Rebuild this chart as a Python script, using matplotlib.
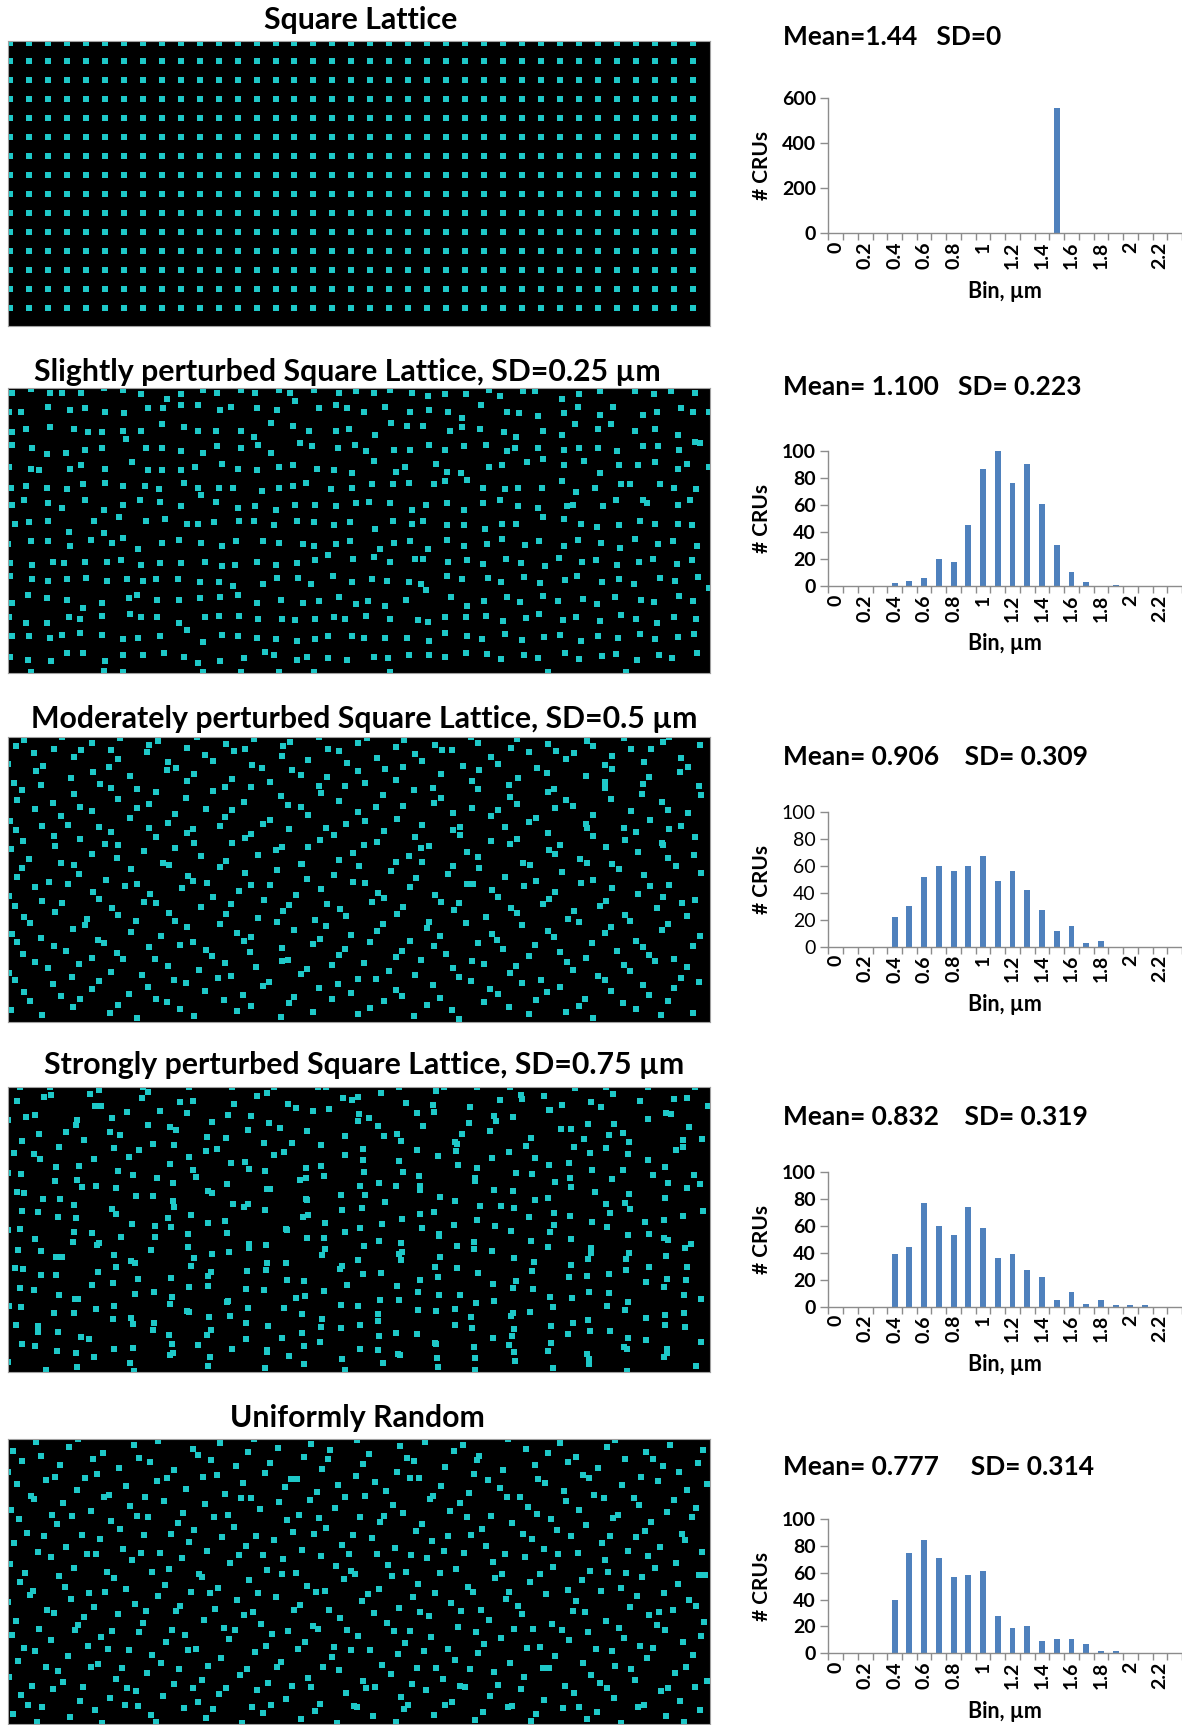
import numpy as np
import matplotlib.pyplot as plt

plt.rcParams['font.family'] = ['Lato', 'DejaVu Sans']

W, H = 1182, 1725

titles = ["Square Lattice",
          "Slightly perturbed Square Lattice, SD=0.25 µm",
          "Moderately perturbed Square Lattice, SD=0.5 µm",
          "Strongly perturbed Square Lattice, SD=0.75 µm",
          "Uniformly Random"]
stats = ["Mean=1.44   SD=0",
         "Mean= 1.100   SD= 0.223",
         "Mean= 0.906    SD= 0.309",
         "Mean= 0.832    SD= 0.319",
         "Mean= 0.777     SD= 0.314"]

# nearest-neighbour distance bins, µm
bins = [0, 0.1, 0.2, 0.3, 0.4, 0.5, 0.6, 0.7, 0.8, 0.9, 1, 1.1,
        1.2, 1.3, 1.4, 1.5, 1.6, 1.7, 1.8, 1.9, 2, 2.1, 2.2, 2.3]
counts_lattice = [0, 0, 0, 0, 0, 0, 0, 0, 0, 0, 0, 0, 0, 0, 0, 555, 0, 0, 0, 0, 0, 0, 0, 0]
counts_slight = [0, 0, 0, 0, 2, 4, 6, 20, 18, 45, 87, 100, 76, 90, 61, 30, 10, 3, 0, 1, 0, 0, 0, 0]
counts_moderate = [0, 0, 0, 0, 22, 30, 52, 60, 56, 60, 67, 49, 56, 42, 27, 12, 15, 3, 4, 0, 0, 0, 0, 0]
counts_strong = [0, 0, 0, 0, 39, 44, 77, 60, 53, 74, 58, 36, 39, 27, 22, 5, 11, 2, 5, 1, 1, 1, 0, 0]
counts_uniform = [0, 0, 0, 0, 40, 75, 84, 71, 57, 58, 61, 28, 19, 20, 9, 11, 11, 7, 2, 2, 0, 0, 0, 0]
y_max = [600, 100, 100, 100, 100]
y_step = [200, 20, 20, 20, 20]

# square lattice: 37 x 15 CRUs, 1.44 µm apart
lattice_cols, lattice_rows = 37, 15
lattice_step = 1.44
px_per_um = 13.17          # raster pixels of the field per µm
field_w, field_h = 702, 285  # field size in raster pixels

# CRU centres (raster pixels, origin top-left) of the perturbed fields
slight_pts = [
    (4, 5), (23, 1), (42, 5), (54, 5), (73, 5), (96, 0), (115, 2), (133, 6), (159, 11), (173, 6), (195, 2), (209, 5), (233, 2),
    (1, 24), (13, 24), (40, 19), (62, 22), (77, 20), (97, 24), (116, 25), (140, 20), (155, 20), (173, 17), (190, 17), (212, 22), (223, 19),
    (4, 44), (18, 41), (42, 39), (66, 41), (80, 44), (94, 44), (115, 43), (133, 43), (154, 36), (176, 39), (190, 43), (208, 43), (233, 43), (118, 51),
    (4, 57), (24, 60), (39, 66), (58, 65), (77, 62), (94, 60), (138, 60), (154, 60), (173, 63), (195, 65), (209, 58), (233, 60),
    (1, 79), (23, 81), (31, 82), (62, 81), (73, 77), (97, 81), (124, 74), (140, 82), (154, 82), (173, 82), (187, 79), (214, 76), (230, 81),
    (3, 100), (18, 98), (39, 100), (59, 101), (75, 96), (97, 95), (115, 98), (137, 98), (151, 101), (176, 95), (190, 100), (193, 107), (211, 100), (225, 100),
    (4, 117), (16, 112), (40, 115), (54, 120), (77, 112), (96, 122), (115, 117), (132, 112), (152, 114), (173, 118), (208, 114), (230, 120),
    (7, 136), (21, 134), (40, 133), (86, 133), (111, 129), (138, 133), (157, 131), (179, 136), (190, 136), (206, 134), (231, 133),
    (61, 144), (96, 145),
    (0, 156), (23, 153), (40, 153), (62, 158), (83, 152), (104, 155), (115, 150), (130, 161), (154, 155), (171, 152), (193, 155), (214, 158), (228, 153),
    (2, 175), (24, 177), (45, 174), (56, 175), (77, 174), (99, 174), (113, 172), (133, 177), (152, 175), (173, 175), (197, 174), (214, 178), (227, 177),
    (2, 188), (24, 191), (40, 193), (59, 191), (78, 190), (99, 193), (119, 191), (135, 193), (148, 191), (170, 191), (192, 194), (211, 194), (225, 198),
    (4, 215), (20, 207), (39, 210), (59, 212), (75, 220), (94, 215), (121, 210), (129, 207), (149, 212), (171, 212), (192, 210), (212, 209), (230, 207),
    (1, 229), (18, 235), (39, 235), (61, 229), (72, 231), (94, 228), (122, 226), (133, 229), (149, 229), (171, 235), (179, 242), (197, 229), (211, 228), (231, 228),
    (4, 248), (21, 248), (42, 250), (54, 247), (72, 245), (94, 247), (115, 251), (130, 250), (152, 248), (195, 254), (214, 247), (230, 248),
    (2, 269), (20, 272), (43, 273), (59, 265), (75, 265), (97, 273), (115, 267), (135, 267), (156, 265), (176, 269), (190, 275), (212, 273),
    (23, 284), (96, 283), (115, 284), (195, 284), (233, 284),
    (247, 5), (271, 2), (282, 5), (306, 2), (331, 5), (348, 3), (366, 5), (382, 2), (404, 5), (420, 8), (437, 6), (458, 6),
    (287, 13), (249, 20), (269, 22), (311, 20), (328, 17), (339, 20), (356, 24), (377, 19), (402, 24), (421, 22), (440, 24), (454, 30),
    (263, 35), (285, 38), (301, 43), (328, 43), (341, 41), (367, 47), (383, 35), (399, 38), (415, 38), (442, 43), (454, 39), (246, 49),
    (250, 57), (263, 65), (292, 55), (304, 58), (330, 60), (347, 57), (358, 63), (386, 62), (402, 62), (421, 57), (437, 62), (456, 58),
    (249, 82), (271, 79), (285, 77), (309, 81), (326, 82), (344, 85), (366, 73), (388, 84), (397, 79), (428, 76), (439, 84), (453, 85), (459, 92),
    (254, 103), (271, 100), (285, 98), (298, 95), (323, 101), (344, 100), (364, 96), (385, 96), (401, 95), (426, 96), (437, 93),
    (247, 118), (268, 122), (287, 117), (307, 117), (328, 118), (348, 115), (361, 114), (382, 115), (404, 122), (418, 117), (439, 115), (456, 122),
    (246, 133), (266, 137), (289, 133), (306, 134), (326, 137), (342, 134), (367, 141), (385, 133), (404, 136), (415, 133), (439, 137), (456, 137),
    (255, 153), (271, 155), (295, 156), (306, 158), (328, 156), (342, 153), (372, 161), (386, 155), (402, 153), (420, 161), (439, 152), (456, 158),
    (249, 174), (268, 177), (289, 175), (307, 172), (320, 167), (345, 171), (366, 169), (382, 174), (407, 171), (415, 171), (440, 174), (459, 172),
    (269, 190), (290, 190), (255, 196), (303, 196), (325, 188), (344, 194), (364, 191), (379, 193), (401, 194), (413, 196), (439, 188), (454, 191),
    (249, 215), (273, 212), (295, 215), (311, 213), (331, 209), (348, 216), (360, 213), (377, 218), (398, 212), (418, 202), (443, 209), (459, 218),
    (250, 231), (274, 231), (287, 232), (307, 231), (326, 229), (337, 231), (358, 228), (382, 231), (410, 232), (420, 234), (437, 229), (458, 229),
    (249, 250), (268, 251), (289, 253), (307, 251), (320, 248), (344, 248), (356, 250), (377, 250), (399, 250), (421, 253), (437, 245), (459, 248),
    (236, 270), (257, 264), (266, 267), (289, 272), (299, 269), (320, 270), (339, 272), (366, 269), (380, 270), (401, 267), (421, 267), (437, 269), (458, 265),
    (271, 284), (306, 284), (382, 284),
    (481, 2), (492, 8), (515, 3), (527, 3), (554, 11), (571, 6), (592, 3), (627, 3), (646, 6), (663, 3), (687, 5),
    (473, 17), (499, 24), (511, 25), (530, 28), (556, 25), (570, 19), (592, 27), (605, 19), (635, 27), (649, 24), (673, 20), (685, 24), (701, 24),
    (472, 41), (496, 44), (508, 49), (535, 43), (554, 47), (567, 36), (590, 41), (603, 36), (627, 43), (647, 41), (670, 47), (687, 54), (692, 55),
    (478, 57), (499, 63), (507, 60), (530, 60), (556, 62), (571, 60), (590, 60), (609, 63), (635, 58), (650, 58), (671, 62),
    (481, 79), (494, 77), (519, 74), (535, 71), (556, 77), (576, 73), (592, 85), (611, 77), (630, 77), (647, 74), (670, 81), (679, 76), (701, 79),
    (475, 100), (497, 101), (510, 100), (534, 100), (554, 93), (568, 104), (587, 100), (613, 96), (622, 96), (652, 96), (666, 100), (688, 101),
    (475, 115), (492, 112), (510, 118), (530, 120), (559, 118), (565, 117), (595, 118), (608, 112), (635, 112), (639, 115), (670, 117), (682, 112),
    (477, 141), (494, 136), (508, 136), (535, 129), (556, 131), (573, 136), (589, 139), (611, 137), (632, 133), (647, 136), (670, 136), (684, 137),
    (479, 156), (494, 151), (517, 157), (531, 153), (556, 158), (570, 152), (593, 155), (612, 160), (627, 151), (650, 156), (665, 153), (689, 158),
    (475, 176), (498, 171), (513, 175), (537, 178), (551, 170), (574, 174), (588, 172), (609, 177), (631, 174), (645, 171), (669, 176), (684, 172),
    (480, 190), (493, 194), (516, 189), (532, 195), (557, 192), (569, 188), (594, 194), (611, 191), (626, 196), (652, 190), (667, 193), (690, 189),
    (476, 213), (499, 209), (512, 214), (535, 208), (550, 213), (575, 211), (589, 216), (607, 209), (633, 212), (646, 214), (671, 208), (685, 213),
    (478, 228), (495, 233), (518, 230), (531, 226), (555, 232), (568, 229), (592, 233), (613, 227), (628, 231), (649, 235), (666, 229), (688, 231),
    (474, 251), (497, 246), (514, 252), (536, 249), (552, 247), (573, 253), (590, 248), (610, 250), (632, 246), (647, 251), (670, 249), (686, 246),
    (479, 266), (493, 271), (516, 267), (530, 270), (557, 265), (571, 271), (594, 268), (608, 266), (629, 272), (651, 267), (664, 270), (689, 265),
    (540, 284), (618, 284), (701, 200),
]

moderate_x = [
    [8, 16, 46, 54, 84, 103, 112, 141, 150, 179, 189, 218, 226, 246, 275, 282, 311, 320, 350, 359, 388, 396, 427, 434, 463, 470, 503, 509, 540, 548, 579, 585, 616, 623, 655, 661, 692],
    [0, 26, 35, 66, 73, 101, 110, 139, 160, 168, 197, 205, 237, 244, 274, 284, 300, 331, 339, 369, 377, 407, 414, 444, 455, 483, 490, 521, 529, 558, 566, 597, 604, 636, 643, 673, 680],
    [6, 28, 33, 63, 85, 92, 122, 129, 159, 179, 186, 217, 224, 254, 262, 293, 311, 319, 350, 357, 388, 395, 425, 433, 464, 471, 501, 510, 539, 546, 578, 597, 604, 635, 641, 672, 691],
    [9, 14, 45, 66, 72, 103, 110, 141, 148, 178, 198, 205, 236, 243, 273, 280, 313, 331, 337, 368, 375, 406, 426, 433, 464, 470, 502, 509, 540, 558, 565, 597, 603, 634, 654, 660, 693],
    [2, 27, 34, 53, 84, 91, 122, 129, 160, 167, 185, 217, 224, 255, 262, 293, 300, 318, 350, 357, 389, 395, 414, 445, 452, 483, 490, 521, 528, 547, 578, 585, 616, 623, 642, 673, 680],
    [8, 15, 46, 60, 72, 103, 110, 141, 148, 179, 186, 212, 237, 243, 274, 281, 312, 326, 338, 369, 376, 407, 421, 445, 452, 483, 497, 509, 540, 552, 579, 585, 617, 628, 654, 661, 687],
    [3, 21, 47, 53, 84, 97, 109, 136, 161, 167, 193, 218, 224, 250, 268, 293, 300, 331, 345, 356, 388, 401, 413, 445, 459, 470, 502, 515, 541, 547, 572, 598, 604, 630, 655, 660, 686],
    [9, 14, 41, 66, 71, 98, 123, 129, 155, 180, 185, 212, 237, 243, 269, 294, 299, 326, 351, 357, 383, 408, 414, 440, 465, 471, 497, 522, 528, 554, 579, 585, 611, 636, 642, 668, 693],
    [1, 27, 34, 60, 85, 91, 117, 142, 148, 174, 199, 205, 231, 256, 262, 288, 313, 319, 345, 370, 376, 402, 427, 433, 459, 484, 490, 516, 541, 547, 573, 598, 604, 630, 655, 661, 687],
    [7, 16, 47, 54, 79, 104, 110, 136, 161, 167, 193, 218, 223, 250, 275, 281, 307, 332, 338, 364, 389, 395, 421, 446, 451, 478, 503, 509, 535, 560, 566, 592, 617, 622, 649, 674, 679],
    [4, 22, 33, 65, 77, 90, 123, 128, 153, 179, 185, 212, 229, 243, 269, 286, 312, 318, 343, 369, 375, 402, 419, 432, 458, 484, 489, 514, 540, 546, 571, 597, 603, 628, 654, 660, 692],
    [9, 15, 46, 58, 84, 96, 109, 141, 147, 172, 198, 204, 236, 242, 274, 280, 305, 331, 337, 362, 388, 394, 426, 438, 464, 470, 495, 521, 527, 552, 578, 584, 609, 635, 641, 666, 685],
    [1, 27, 40, 64, 71, 103, 115, 134, 160, 166, 191, 217, 223, 248, 274, 293, 299, 324, 350, 356, 381, 407, 413, 445, 451, 476, 502, 508, 533, 559, 565, 590, 616, 622, 647, 673, 679],
    [7, 16, 45, 53, 84, 91, 121, 140, 148, 178, 197, 210, 235, 255, 261, 286, 311, 330, 343, 368, 388, 394, 425, 432, 463, 482, 490, 514, 539, 552, 577, 597, 603, 635, 641, 666, 691],
    [3, 22, 34, 65, 72, 102, 110, 129, 159, 172, 186, 216, 229, 243, 273, 281, 305, 324, 350, 362, 376, 406, 419, 444, 451, 476, 501, 521, 528, 558, 571, 585, 615, 628, 653, 660, 685],
]
moderate_y = [
    [9, 3, 12, 0, 6, 13, 1, 8, 4, 11, 0, 7, 14, 2, 9, 5, 0, 12, 6, 1, 10, 3, 8, 13, 0, 6, 11, 2, 7, 14, 4, 9, 1, 12, 5, 0, 8],
    [27, 16, 29, 20, 13, 30, 22, 15, 25, 31, 18, 24, 12, 28, 19, 33, 23, 14, 26, 21, 32, 17, 24, 13, 29, 20, 27, 15, 31, 22, 16, 28, 19, 25, 12, 21, 30],
    [46, 34, 48, 41, 35, 47, 39, 52, 33, 44, 37, 50, 42, 31, 45, 38, 49, 40, 34, 46, 43, 30, 51, 37, 44, 33, 48, 41, 36, 52, 39, 45, 32, 47, 40, 35, 49],
    [63, 53, 66, 57, 70, 51, 62, 67, 55, 61, 72, 54, 65, 50, 59, 68, 56, 64, 49, 70, 58, 53, 66, 61, 71, 52, 60, 67, 55, 63, 69, 51, 62, 57, 65, 73, 58],
    [84, 72, 89, 79, 74, 90, 81, 71, 86, 77, 92, 80, 73, 87, 83, 70, 78, 91, 75, 84, 82, 69, 88, 76, 90, 79, 73, 85, 81, 71, 87, 78, 91, 74, 83, 89, 76],
    [93, 104, 99, 88, 102, 95, 108, 91, 100, 96, 106, 89, 101, 97, 110, 92, 103, 98, 87, 105, 94, 100, 109, 93, 98, 104, 90, 102, 96, 108, 91, 99, 103, 95, 106, 92, 100],
    [112, 122, 109, 126, 117, 107, 121, 114, 128, 111, 119, 124, 106, 118, 113, 127, 110, 123, 116, 108, 125, 119, 111, 129, 115, 120, 107, 126, 113, 117, 122, 110, 127, 115, 108, 121, 118],
    [140, 131, 145, 128, 137, 143, 132, 147, 126, 139, 144, 130, 136, 148, 133, 127, 142, 138, 129, 146, 134, 141, 125, 137, 147, 131, 140, 128, 144, 135, 126, 143, 132, 138, 149, 129, 136],
    [159, 150, 164, 147, 155, 162, 149, 157, 166, 151, 146, 160, 154, 163, 148, 158, 152, 167, 145, 156, 161, 150, 158, 165, 147, 153, 160, 149, 162, 155, 146, 164, 151, 157, 160, 148, 163],
    [169, 180, 175, 166, 182, 171, 178, 165, 176, 184, 170, 177, 167, 181, 174, 168, 183, 172, 179, 165, 177, 170, 185, 173, 166, 180, 171, 176, 167, 182, 174, 169, 178, 184, 171, 166, 179],
    [197, 186, 201, 192, 188, 203, 195, 184, 199, 190, 205, 187, 196, 200, 185, 193, 202, 189, 198, 194, 187, 204, 191, 199, 186, 197, 203, 188, 194, 200, 185, 196, 190, 204, 193, 187, 199],
    [205, 217, 209, 214, 221, 206, 216, 210, 222, 208, 213, 219, 204, 215, 211, 223, 207, 218, 212, 205, 220, 214, 209, 217, 224, 206, 212, 219, 208, 215, 221, 206, 214, 210, 218, 222, 209],
    [236, 225, 231, 240, 227, 235, 222, 238, 229, 243, 233, 226, 239, 230, 224, 237, 232, 228, 242, 226, 234, 238, 223, 231, 240, 227, 236, 229, 243, 225, 233, 239, 228, 234, 224, 241, 230],
    [243, 255, 247, 259, 252, 244, 257, 250, 262, 246, 254, 241, 258, 249, 245, 260, 251, 247, 256, 242, 253, 259, 248, 261, 244, 252, 257, 246, 255, 250, 262, 243, 254, 248, 258, 251, 245],
    [273, 264, 278, 270, 262, 276, 268, 281, 265, 272, 279, 263, 274, 269, 280, 266, 275, 262, 277, 271, 264, 279, 268, 273, 282, 265, 270, 277, 263, 275, 269, 281, 266, 272, 278, 264, 276],
]

strong_x = [
    [12, 9, 43, 42, 93, 91, 135, 134, 140, 181, 172, 224, 226, 266, 259, 288, 318, 310, 350, 344, 391, 398, 436, 428, 462, 469, 514, 502, 536, 567, 554, 598, 605, 640, 632, 687, 679],
    [0, 36, 27, 68, 87, 82, 104, 152, 162, 185, 179, 204, 249, 243, 280, 272, 321, 335, 350, 351, 373, 415, 425, 426, 461, 492, 505, 513, 542, 563, 583, 580, 593, 640, 666, 658, 700],
    [14, 18, 58, 51, 69, 112, 119, 145, 140, 168, 209, 220, 218, 261, 256, 305, 299, 313, 361, 376, 370, 409, 409, 454, 447, 488, 486, 518, 553, 541, 576, 606, 598, 615, 663, 675, 681],
    [6, 31, 32, 76, 71, 106, 102, 121, 166, 162, 199, 198, 240, 237, 284, 266, 298, 337, 355, 355, 393, 389, 430, 450, 449, 482, 501, 527, 523, 566, 561, 601, 620, 621, 657, 668, 694],
    [0, 26, 47, 48, 88, 86, 125, 131, 149, 185, 181, 219, 223, 257, 276, 292, 313, 316, 337, 371, 391, 395, 412, 448, 469, 467, 484, 524, 541, 547, 582, 584, 604, 640, 645, 675, 692],
    [9, 13, 35, 69, 66, 108, 110, 145, 165, 165, 188, 204, 240, 241, 259, 298, 298, 333, 352, 356, 377, 412, 411, 432, 467, 472, 508, 505, 527, 562, 563, 598, 615, 621, 660, 657, 686],
    [14, 16, 50, 52, 74, 108, 124, 128, 166, 160, 200, 225, 217, 257, 262, 300, 299, 317, 357, 354, 394, 388, 426, 447, 446, 486, 493, 521, 540, 546, 584, 587, 622, 617, 656, 679, 675],
    [0, 30, 27, 68, 84, 91, 104, 147, 147, 183, 180, 200, 241, 236, 278, 295, 299, 337, 334, 374, 371, 412, 414, 431, 469, 466, 506, 503, 546, 562, 563, 599, 602, 641, 637, 660, 695],
    [10, 12, 48, 65, 66, 106, 113, 123, 163, 180, 186, 219, 221, 258, 259, 279, 317, 316, 350, 352, 391, 393, 431, 432, 449, 487, 484, 523, 526, 542, 583, 580, 620, 621, 656, 658, 683],
    [7, 33, 33, 54, 89, 90, 127, 130, 143, 183, 200, 204, 239, 241, 278, 279, 314, 332, 356, 355, 393, 394, 430, 427, 466, 470, 506, 508, 540, 563, 579, 583, 618, 618, 659, 677, 679],
    [12, 15, 51, 48, 70, 105, 108, 146, 163, 164, 203, 200, 219, 258, 256, 296, 297, 334, 339, 372, 373, 410, 412, 449, 452, 485, 486, 524, 525, 561, 564, 601, 601, 638, 641, 676, 678],
    [1, 26, 46, 67, 84, 88, 123, 127, 162, 181, 181, 220, 222, 238, 276, 288, 314, 316, 350, 370, 389, 391, 428, 431, 463, 468, 505, 505, 542, 545, 580, 581, 617, 620, 656, 657, 693],
    [8, 13, 30, 66, 73, 105, 106, 145, 146, 179, 199, 201, 238, 240, 260, 294, 294, 333, 333, 371, 370, 410, 409, 447, 447, 485, 503, 506, 522, 560, 565, 599, 602, 638, 638, 676, 677],
    [14, 30, 49, 50, 86, 81, 125, 125, 161, 165, 203, 190, 238, 259, 274, 281, 313, 312, 352, 352, 390, 388, 428, 429, 464, 466, 504, 506, 543, 543, 581, 582, 619, 620, 657, 659, 693],
    [0, 27, 38, 68, 69, 106, 122, 126, 162, 164, 200, 202, 224, 257, 259, 296, 296, 334, 337, 370, 375, 392, 427, 430, 467, 467, 501, 507, 540, 545, 579, 581, 616, 619, 656, 659, 688],
]
strong_y = [
    [0, 14, 8, 0, 19, 3, 0, 11, 5, 0, 15, 0, 17, 0, 6, 21, 0, 0, 10, 13, 0, 16, 0, 4, 20, 0, 12, 0, 9, 1, 18, 0, 7, 0, 14, 0, 11],
    [33, 10, 28, 38, 19, 7, 31, 24, 40, 14, 26, 35, 9, 29, 17, 41, 22, 11, 34, 27, 6, 39, 18, 25, 36, 13, 30, 8, 23, 42, 15, 37, 20, 32, 12, 26, 19],
    [54, 30, 45, 60, 33, 48, 25, 57, 38, 43, 62, 28, 51, 36, 56, 24, 44, 58, 31, 49, 39, 63, 26, 47, 55, 34, 29, 59, 42, 23, 52, 37, 61, 46, 27, 53, 40],
    [66, 47, 72, 53, 79, 61, 45, 70, 58, 77, 50, 64, 43, 75, 56, 68, 81, 49, 62, 73, 54, 47, 69, 78, 57, 44, 65, 71, 51, 60, 76, 48, 67, 55, 80, 63, 52],
    [86, 67, 94, 80, 99, 72, 88, 63, 91, 83, 70, 97, 76, 84, 65, 93, 79, 89, 68, 96, 74, 85, 99, 64, 81, 91, 71, 87, 78, 95, 66, 83, 92, 73, 88, 60, 97],
    [105, 87, 112, 93, 118, 101, 84, 109, 96, 114, 90, 106, 117, 82, 102, 112, 91, 108, 99, 85, 115, 103, 89, 110, 94, 119, 86, 104, 113, 91, 100, 117, 83, 107, 96, 111, 88],
    [124, 106, 130, 112, 100, 127, 137, 109, 120, 131, 104, 117, 134, 123, 102, 128, 113, 136, 108, 121, 132, 99, 125, 114, 138, 103, 119, 130, 111, 126, 135, 105, 122, 116, 133, 101, 129],
    [143, 125, 152, 131, 146, 156, 122, 139, 150, 128, 147, 136, 157, 120, 142, 130, 151, 145, 123, 137, 154, 127, 141, 149, 133, 155, 121, 144, 138, 129, 152, 140, 126, 147, 135, 153, 124],
    [163, 142, 170, 155, 145, 168, 150, 174, 140, 160, 171, 146, 165, 158, 176, 143, 162, 151, 173, 141, 167, 156, 147, 170, 159, 139, 164, 154, 175, 145, 161, 172, 148, 166, 151, 169, 157],
    [181, 164, 188, 170, 158, 185, 176, 192, 163, 179, 189, 167, 184, 161, 176, 193, 168, 182, 159, 187, 173, 165, 190, 180, 162, 186, 171, 194, 160, 178, 189, 166, 183, 172, 192, 161, 180],
    [201, 182, 208, 188, 212, 196, 180, 205, 191, 210, 185, 199, 215, 183, 203, 194, 209, 179, 198, 213, 186, 205, 193, 181, 208, 197, 214, 184, 202, 190, 211, 187, 206, 195, 180, 208, 193],
    [219, 203, 226, 212, 198, 222, 231, 207, 217, 225, 200, 214, 229, 202, 221, 211, 232, 204, 219, 227, 199, 213, 224, 208, 230, 216, 201, 226, 210, 220, 233, 205, 223, 215, 200, 228, 212],
    [238, 220, 245, 226, 250, 232, 219, 243, 236, 224, 248, 230, 252, 221, 239, 246, 227, 241, 218, 249, 234, 223, 247, 238, 222, 251, 229, 242, 225, 247, 236, 219, 244, 231, 253, 226, 240],
    [257, 239, 264, 245, 270, 252, 237, 261, 248, 266, 243, 258, 236, 263, 251, 269, 240, 255, 262, 238, 267, 246, 257, 271, 241, 260, 249, 265, 239, 256, 272, 244, 262, 251, 238, 266, 255],
    [275, 259, 283, 266, 280, 262, 276, 284, 268, 257, 279, 270, 262, 281, 265, 277, 259, 272, 283, 263, 276, 268, 256, 280, 271, 283, 258, 274, 264, 281, 267, 277, 260, 284, 270, 262, 279],
]

uniform_pts = [
    (5, 12), (28, 3), (33, 17), (61, 8), (70, 0), (95, 14), (126, 6), (131, 19), (150, 2), (185, 10), (190, 16), (212, 4), (240, 13), (246, 0), (270, 9), (296, 18), (303, 5), (322, 11), (349, 1), (361, 15), (392, 7), (399, 19), (417, 3), (446, 12), (455, 6), (471, 17), (500, 0), (518, 10), (540, 14), (552, 4), (568, 18), (599, 8), (607, 1), (638, 13), (645, 20), (662, 6), (695, 11),
    (0, 33), (14, 22), (47, 38), (52, 26), (85, 20), (89, 35), (111, 29), (142, 23), (159, 39), (166, 31), (203, 21), (209, 36), (228, 27), (257, 34), (262, 24), (289, 40), (314, 30), (320, 20), (348, 37), (355, 25), (389, 33), (406, 22), (411, 39), (437, 28), (466, 35), (469, 21), (495, 31), (527, 26), (530, 40), (560, 23), (575, 36), (590, 29), (617, 20), (633, 38), (655, 27), (671, 33), (690, 24),
    (9, 45), (23, 57), (38, 41), (69, 51), (77, 39), (101, 56), (118, 47), (137, 58), (149, 42), (178, 50), (195, 38), (217, 55), (235, 44), (243, 59), (277, 48), (283, 40), (309, 53), (330, 46), (337, 58), (367, 43), (378, 52), (402, 39), (425, 57), (433, 47), (461, 54), (480, 41), (492, 49), (512, 58), (537, 44), (556, 52), (581, 39), (586, 56), (614, 46), (626, 59), (650, 42), (679, 51), (699, 45),
    (3, 71), (26, 60), (44, 76), (55, 64), (83, 72), (96, 58), (122, 67), (129, 77), (156, 62), (175, 74), (197, 65), (206, 78), (233, 59), (252, 70), (271, 63), (291, 76), (302, 61), (327, 69), (352, 78), (357, 57), (385, 66), (395, 74), (422, 60), (442, 72), (452, 64), (483, 77), (499, 58), (520, 68), (529, 75), (558, 62), (571, 71), (596, 59), (610, 76), (631, 66), (659, 73), (666, 61), (688, 69),
    (11, 80), (19, 94), (49, 85), (64, 77), (74, 96), (103, 82), (112, 90), (140, 78), (163, 95), (170, 84), (186, 91), (220, 76), (226, 88), (248, 97), (279, 81), (285, 93), (311, 79), (318, 89), (345, 96), (372, 83), (376, 77), (408, 92), (414, 85), (440, 97), (459, 78), (474, 90), (504, 84), (515, 95), (543, 80), (549, 91), (578, 86), (602, 97), (605, 79), (637, 92), (643, 83), (674, 95), (684, 78),
    (6, 104), (30, 113), (36, 97), (58, 108), (88, 115), (92, 100), (115, 110), (136, 96), (152, 114), (181, 103), (199, 112), (214, 98), (238, 107), (255, 116), (266, 101), (294, 111), (306, 95), (334, 106), (341, 115), (364, 99), (387, 109), (403, 116), (424, 102), (436, 112), (463, 96), (478, 107), (497, 115), (524, 100), (536, 110), (563, 97), (570, 114), (594, 104), (620, 112), (628, 98), (652, 108), (677, 101), (694, 113),
    (2, 125), (17, 134), (43, 118), (66, 129), (79, 115), (99, 133), (124, 121), (133, 114), (161, 130), (174, 119), (191, 135), (222, 124), (231, 116), (259, 131), (275, 120), (288, 134), (313, 117), (328, 127), (347, 135), (369, 115), (380, 126), (398, 133), (419, 119), (448, 130), (456, 114), (485, 123), (494, 135), (517, 118), (545, 128), (550, 115), (582, 132), (597, 121), (618, 134), (640, 117), (647, 129), (668, 124), (697, 136),
    (12, 143), (25, 152), (51, 137), (57, 148), (81, 154), (106, 139), (118, 150), (144, 133), (157, 146), (183, 153), (194, 138), (210, 149), (241, 141), (250, 154), (274, 135), (299, 147), (308, 153), (336, 140), (343, 132), (371, 150), (384, 137), (410, 145), (427, 154), (432, 134), (460, 148), (487, 139), (501, 153), (522, 143), (532, 135), (560, 151), (574, 141), (600, 133), (613, 149), (634, 138), (656, 154), (670, 145), (691, 136),
    (0, 163), (22, 156), (39, 171), (63, 160), (86, 168), (97, 153), (127, 165), (138, 172), (150, 157), (172, 167), (202, 154), (207, 170), (229, 161), (245, 173), (268, 158), (292, 166), (317, 152), (321, 171), (354, 162), (360, 155), (391, 169), (405, 158), (412, 173), (443, 164), (465, 153), (473, 171), (498, 160), (510, 167), (538, 155), (565, 172), (568, 162), (593, 152), (622, 168), (629, 157), (651, 173), (681, 161), (688, 167),
    (8, 182), (31, 190), (46, 174), (70, 186), (76, 178), (104, 192), (110, 175), (135, 184), (164, 191), (168, 172), (196, 181), (216, 189), (236, 176), (253, 185), (280, 192), (286, 171), (305, 187), (332, 179), (339, 191), (366, 174), (379, 184), (402, 192), (421, 177), (450, 188), (453, 172), (481, 181), (506, 190), (514, 175), (544, 185), (554, 191), (577, 173), (598, 182), (611, 189), (641, 176), (649, 186), (665, 171), (696, 183),
    (4, 196), (16, 209), (43, 201), (67, 191), (80, 207), (93, 198), (121, 211), (131, 193), (158, 203), (177, 196), (188, 210), (221, 200), (227, 191), (258, 207), (264, 195), (297, 203), (310, 190), (326, 208), (350, 197), (362, 211), (386, 192), (397, 204), (423, 198), (440, 210), (468, 193), (476, 205), (493, 199), (525, 190), (532, 208), (561, 201), (580, 193), (588, 210), (616, 199), (632, 207), (657, 191), (675, 203), (693, 197),
    (10, 222), (27, 212), (38, 228), (60, 217), (90, 225), (100, 210), (114, 229), (144, 216), (153, 224), (180, 211), (200, 227), (213, 219), (239, 230), (247, 213), (273, 223), (290, 210), (315, 228), (324, 218), (343, 211), (374, 226), (390, 215), (409, 229), (416, 212), (447, 221), (462, 230), (470, 214), (502, 224), (519, 209), (541, 229), (547, 217), (575, 224), (604, 212), (607, 227), (639, 219), (645, 209), (678, 228), (685, 216),
    (1, 238), (24, 247), (50, 232), (55, 243), (83, 228), (108, 240), (119, 249), (139, 234), (166, 245), (171, 230), (194, 241), (218, 249), (232, 236), (260, 244), (269, 228), (300, 239), (303, 248), (331, 231), (355, 242), (358, 249), (383, 235), (404, 245), (428, 229), (435, 240), (457, 248), (486, 233), (490, 246), (516, 238), (535, 229), (557, 247), (583, 236), (592, 244), (623, 230), (627, 241), (660, 249), (667, 234), (699, 242),
    (13, 256), (20, 266), (45, 250), (72, 262), (75, 248), (102, 259), (128, 252), (130, 267), (155, 257), (185, 249), (190, 263), (211, 255), (244, 268), (249, 251), (278, 260), (284, 247), (312, 265), (338, 254), (346, 267), (367, 248), (393, 258), (400, 266), (418, 251), (444, 263), (452, 247), (482, 257), (500, 268), (513, 250), (536, 261), (566, 254), (571, 268), (599, 249), (606, 259), (636, 266), (653, 252), (672, 262), (687, 248),
    (5, 275), (29, 283), (34, 268), (62, 278), (87, 271), (94, 284), (117, 266), (143, 276), (148, 283), (176, 269), (198, 279), (205, 270), (234, 284), (255, 274), (263, 266), (293, 280), (307, 272), (329, 284), (349, 268), (365, 277), (388, 283), (396, 270), (426, 276), (437, 266), (467, 281), (475, 273), (504, 267), (523, 282), (528, 275), (555, 269), (579, 280), (589, 273), (613, 284), (630, 268), (658, 277), (676, 283), (692, 271),
]

lattice_x, lattice_y = np.meshgrid(np.arange(lattice_cols) * lattice_step,
                                   np.arange(lattice_rows) * lattice_step)
lattice_pts = np.column_stack([lattice_x.ravel(), lattice_y.ravel()]) * px_per_um + 2
moderate_pts = np.column_stack([np.ravel(moderate_x), np.ravel(moderate_y)])
strong_pts = np.column_stack([np.ravel(strong_x), np.ravel(strong_y)])

fields = [lattice_pts, slight_pts, moderate_pts, strong_pts, uniform_pts]
counts = [counts_lattice, counts_slight, counts_moderate, counts_strong, counts_uniform]

dot_color = '#1ec8c8'
bar_color = '#4f81bd'
axis_gray = '#8c8c8c'

panel_tops = [40.5, 388, 737.5, 1086.5, 1438.5]
title_pos = [(361, 20), (347, 372), (364, 719), (364, 1065), (357, 1418)]
hist_boxes = [(98.3, 233.3), (451, 586), (811.7, 946.7), (1171.7, 1306.7), (1519, 1653.3)]
stat_y = [37, 387, 757, 1117, 1467]


def add_px_axes(left, top, right, bottom):
    return fig.add_axes([left / W, 1 - bottom / H, (right - left) / W, (bottom - top) / H])


fig = plt.figure(figsize=(W / 100, H / 100), dpi=100)

for k in range(5):
    # CRU field
    ax = add_px_axes(8, panel_tops[k], 710, panel_tops[k] + 285)
    ax.set_facecolor('black')
    pts = np.asarray(fields[k], dtype=float).reshape(-1, 2)
    ax.scatter(pts[:, 0], pts[:, 1], marker='s', s=14, c=dot_color, linewidths=0)
    ax.set_xlim(0, field_w)
    ax.set_ylim(field_h, 0)
    ax.set_xticks([])
    ax.set_yticks([])
    for sp in ax.spines.values():
        sp.set_color('#a0a0a0')
        sp.set_linewidth(0.8)
    tx, ty = title_pos[k]
    fig.text(tx / W, 1 - ty / H, titles[k], ha='center', va='center',
             fontsize=21.8, fontweight='bold')

    # nearest-neighbour histogram
    top, bottom = hist_boxes[k]
    hx = add_px_axes(828.3, top, 1182, bottom)
    hx.bar(range(len(bins)), counts[k], width=0.4, color=bar_color)
    hx.set_xlim(-0.5, len(bins) - 0.52)
    hx.set_ylim(0, y_max[k])
    hx.set_yticks(np.arange(0, y_max[k] + 1, y_step[k]))
    hx.set_xticks(range(0, len(bins), 2))
    hx.set_xticklabels([f"{b:g}" for b in bins[::2]], rotation=90, va='top', ha='center')
    hx.set_xticks(np.arange(-0.5, len(bins), 1), minor=True)
    hx.tick_params(axis='x', which='major', length=0, pad=6)
    hx.tick_params(axis='x', which='minor', length=5, color=axis_gray, width=1)
    hx.tick_params(axis='y', length=6, color=axis_gray, width=1, pad=3)
    weight = 'normal' if k == 2 else 'bold'
    for lab in hx.get_yticklabels():
        lab.set_fontsize(14)
        lab.set_fontweight(weight)
    for lab in hx.get_xticklabels():
        lab.set_fontsize(14)
        lab.set_fontweight('bold')
    for side in ['top', 'right']:
        hx.spines[side].set_visible(False)
    for side in ['left', 'bottom']:
        hx.spines[side].set_color(axis_gray)
        hx.spines[side].set_linewidth(1)
    fig.text(1005 / W, 1 - (bottom + 58) / H, "Bin, µm", ha='center', va='center',
             fontsize=15.5, fontweight='bold')
    fig.text(762 / W, 1 - (top + bottom) / 2 / H, "# CRUs", ha='center', va='center',
             rotation=90, fontsize=15, fontweight='bold')
    fig.text(783 / W, 1 - stat_y[k] / H, stats[k], ha='left', va='center',
             fontsize=19, fontweight='bold')

fig.savefig('out.png', dpi=100)
